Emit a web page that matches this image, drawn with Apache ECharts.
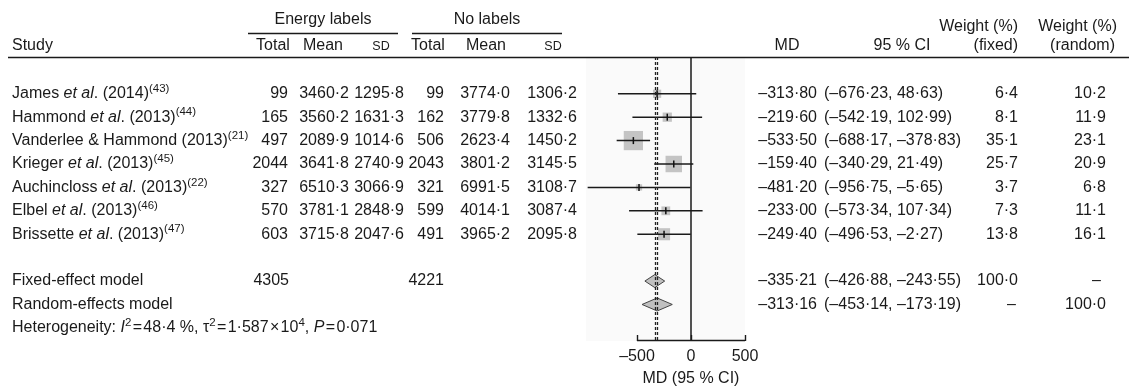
<!DOCTYPE html>
<html>
<head>
<meta charset="utf-8">
<script src="https://cdn.jsdelivr.net/npm/echarts@6/dist/echarts.min.js"></script>
<style>
  html, body { margin: 0; padding: 0; background: #fff; }
  #chart { width: 1129px; height: 386px; }
</style>
</head>
<body>
<div id="chart"></div>
<script>
// study rows
const studyNames = ["James", "Hammond", "Vanderlee & Hammond", "Krieger", "Auchincloss", "Elbel", "Brissette"];
const studyEtAl = [true, true, false, true, true, true, true];
const studyYears = ["2014", "2013", "2013", "2013", "2013", "2013", "2013"];
const studyRefs = ["43", "44", "21", "45", "22", "46", "47"];

const energyTotal = [99, 165, 497, 2044, 327, 570, 603];
const energyMean = [3460.2, 3560.2, 2089.9, 3641.8, 6510.3, 3781.1, 3715.8];
const energySD = [1295.8, 1631.3, 1014.6, 2740.9, 3066.9, 2848.9, 2047.6];
const noTotal = [99, 162, 506, 2043, 321, 599, 491];
const noMean = [3774.0, 3779.8, 2623.4, 3801.2, 6991.5, 4014.1, 3965.2];
const noSD = [1306.2, 1332.6, 1450.2, 3145.5, 3108.7, 3087.4, 2095.8];

const md = [-313.80, -219.60, -533.50, -159.40, -481.20, -233.00, -249.40];
const ciLow = [-676.23, -542.19, -688.17, -340.29, -956.75, -573.34, -496.53];
const ciHigh = [48.63, 102.99, -378.83, 21.49, -5.65, 107.34, -2.27];
const weightFixed = [6.4, 8.1, 35.1, 25.7, 3.7, 7.3, 13.8];
const weightRandom = [10.2, 11.9, 23.1, 20.9, 6.8, 11.1, 16.1];

// pooled rows
const modelNames = ["Fixed-effect model", "Random-effects model"];
const modelMd = [-335.21, -313.16];
const modelLow = [-426.88, -453.14];
const modelHigh = [-243.55, -173.19];
const modelWFixed = ["100·0", "–"];
const modelWRandom = ["–", "100·0"];
const pooledTotals = [4305, 4221];

// heterogeneity
const hetI2 = "48·4";
const hetTau2 = "1·587";
const hetTauExp = "4";
const hetP = "0·071";

const xTicks = [-500, 0, 500];

const FONT = '"Liberation Sans", Arial, sans-serif';
const FS = 16;
const INK = "#1a1a1a";

function fmt(v, d) {
  return (v < 0 ? "–" : "") + Math.abs(v).toFixed(d).replace(".", "·");
}

const chart = echarts.init(document.getElementById("chart"));

const studyData = md.map((m, i) => [i, m, ciLow[i], ciHigh[i], weightFixed[i]]);
const modelData = modelMd.map((m, i) => [8 + i, m, modelLow[i], modelHigh[i]]);

chart.setOption({
  animation: false,
  grid: { left: 586, top: 57, width: 159, height: 284, show: true, backgroundColor: "#fafafa", borderWidth: 0 },
  xAxis: {
    type: "value",
    min: -972,
    max: 500,
    splitLine: { show: false },
    axisLine: { show: false, onZero: false },
    axisTick: { show: true, inside: true, length: 6, customValues: xTicks, lineStyle: { color: INK, width: 1.4 } },
    axisLabel: {
      customValues: xTicks,
      color: INK,
      fontSize: FS,
      fontFamily: FONT,
      margin: 8,
      formatter: (v) => (v < 0 ? "–" + Math.abs(v) : String(v))
    },
    z: 10
  },
  yAxis: { type: "value", inverse: true, min: -1.57, max: 10.56, show: false },
  series: [
    {
      type: "custom",
      name: "studies",
      data: studyData,
      renderItem: (params, api) => {
        const y = api.value(0);
        const c = api.coord([api.value(1), y]);
        const lo = api.coord([api.value(2), y]);
        const hi = api.coord([api.value(3), y]);
        const s = Math.sqrt(api.value(4)) * 3.25;
        return {
          type: "group",
          children: [
            { type: "rect", shape: { x: c[0] - s / 2, y: c[1] - s / 2, width: s, height: s }, style: { fill: "#c4c4c4" } },
            { type: "line", shape: { x1: lo[0], y1: c[1], x2: hi[0], y2: c[1] }, style: { stroke: INK, lineWidth: 1.5 } },
            { type: "line", shape: { x1: c[0], y1: c[1] - 3.5, x2: c[0], y2: c[1] + 3.5 }, style: { stroke: "#111", lineWidth: 1.5 } }
          ]
        };
      },
      markLine: {
        silent: true,
        symbol: "none",
        label: { show: false },
        data: [
          { xAxis: 0, lineStyle: { type: "solid", color: INK, width: 1.5 } },
          { xAxis: modelMd[0], lineStyle: { type: [3, 2], color: "#222", width: 1.3 } },
          { xAxis: modelMd[1], lineStyle: { type: [3, 2], color: "#222", width: 1.3 } }
        ]
      },
      z: 3
    },
    {
      type: "custom",
      name: "models",
      data: modelData,
      renderItem: (params, api) => {
        const y = api.value(0);
        const c = api.coord([api.value(1), y]);
        const lo = api.coord([api.value(2), y]);
        const hi = api.coord([api.value(3), y]);
        return {
          type: "polygon",
          shape: { points: [[lo[0], c[1]], [c[0], c[1] - 6.5], [hi[0], c[1]], [c[0], c[1] + 6.5]] },
          style: { fill: "#c0c0c0", stroke: "#444", lineWidth: 1 }
        };
      },
      z: 4
    }
  ]
});

// table text
const rowY = (r) => chart.convertToPixel({ yAxisIndex: 0 }, r);
const xPix = (v) => chart.convertToPixel({ xAxisIndex: 0 }, v);

const g = [];
function txt(text, x, y, align, extra) {
  g.push({
    type: "text",
    x, y, z: 100,
    style: Object.assign({ text, align: align || "left", verticalAlign: "middle", font: FS + "px " + FONT, fill: INK }, extra || {}),
    silent: true
  });
}
function hline(x1, x2, y, w) {
  g.push({ type: "line", z: 100, shape: { x1, y1: y, x2, y2: y }, style: { stroke: INK, lineWidth: w }, silent: true });
}

const rich = {
  n: { fontSize: FS, fontFamily: FONT, color: INK, lineHeight: 22 },
  i: { fontSize: FS, fontFamily: FONT, color: INK, fontStyle: "italic", lineHeight: 22 },
  s: { fontSize: 11.5, fontFamily: FONT, color: INK, lineHeight: 12, verticalAlign: "top" }
};

// headers
txt("Energy labels", 323, 20, "center");
txt("No labels", 487, 20, "center");
hline(248, 398, 33.5, 1.3);
hline(412, 562, 33.5, 1.3);
txt("Study", 12, 46, "left");
txt("Total", 273, 46, "center");
txt("Mean", 323, 46, "center");
txt("SD", 381, 47, "center", { font: "12.5px " + FONT });
txt("Total", 428, 46, "center");
txt("Mean", 486, 46, "center");
txt("SD", 553, 47, "center", { font: "12.5px " + FONT });
txt("MD", 787, 46, "center");
txt("95 % CI", 902, 46, "center");
txt("Weight (%)", 1018, 27, "right");
txt("(fixed)", 1018, 46, "right");
txt("Weight (%)", 1117, 27, "right");
txt("(random)", 1115, 46, "right");
hline(8, 1129, 57.5, 1.6);

// axis base from first to last tick
const axisY = rowY(10.56);
hline(xPix(xTicks[0]), xPix(xTicks[xTicks.length - 1]), axisY - 0.5, 1.4);

studyNames.forEach((name, i) => {
  const y = rowY(i);
  const label = studyEtAl[i]
    ? `{n|${name} }{i|et al}{n|. (${studyYears[i]})}{s|(${studyRefs[i]})}`
    : `{n|${name} (${studyYears[i]})}{s|(${studyRefs[i]})}`;
  txt(label, 12, y, "left", { rich });
  txt(String(energyTotal[i]), 288, y, "right");
  txt(fmt(energyMean[i], 1), 349, y, "right");
  txt(fmt(energySD[i], 1), 404, y, "right");
  txt(String(noTotal[i]), 444, y, "right");
  txt(fmt(noMean[i], 1), 510, y, "right");
  txt(fmt(noSD[i], 1), 577, y, "right");
  txt(fmt(md[i], 2), 817, y, "right");
  txt(`(${fmt(ciLow[i], 2)}, ${fmt(ciHigh[i], 2)})`, 824, y, "left");
  txt(fmt(weightFixed[i], 1), 1018, y, "right");
  txt(fmt(weightRandom[i], 1), 1106, y, "right");
});

modelNames.forEach((name, i) => {
  const y = rowY(8 + i);
  txt(name, 12, y, "left");
  if (i === 0) {
    txt(String(pooledTotals[0]), 289, y, "right");
    txt(String(pooledTotals[1]), 444, y, "right");
  }
  txt(fmt(modelMd[i], 2), 817, y, "right");
  txt(`(${fmt(modelLow[i], 2)}, ${fmt(modelHigh[i], 2)})`, 824, y, "left");
  txt(modelWFixed[i], modelWFixed[i] === "–" ? 1016 : 1018, y, "right");
  txt(modelWRandom[i], modelWRandom[i] === "–" ? 1101 : 1106, y, "right");
});

const t = "\u200a=\u200a";
txt(
  `{n|Heterogeneity: }{i|I}{s|2}{n|${t}${hetI2} %, τ}{s|2}{n|${t}${hetTau2}\u200a×\u200a10}{s|${hetTauExp}}{n|, }{i|P}{n|${t}${hetP}}`,
  12, rowY(10), "left", { rich }
);

txt("MD (95 % CI)", xPix(0), 379, "center");

chart.setOption({ graphic: g });
</script>
</body>
</html>
